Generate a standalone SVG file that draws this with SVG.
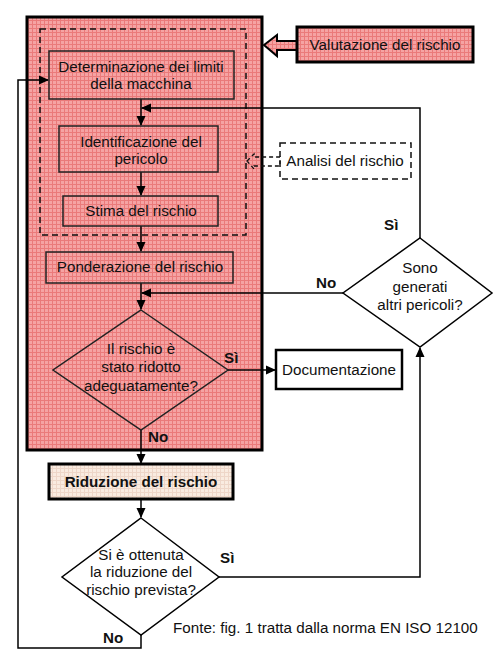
<svg xmlns="http://www.w3.org/2000/svg" width="496" height="665" viewBox="0 0 496 665">
<defs>
<pattern id="grid" width="4" height="4" patternUnits="userSpaceOnUse">
<rect width="4" height="4" fill="#f5a3a3"/>
<path d="M0 0.5H4M0.5 0V4" stroke="#ea7a7a" stroke-width="1"/>
</pattern>
<pattern id="grid2" width="4" height="4" patternUnits="userSpaceOnUse">
<rect width="4" height="4" fill="#f9ebe0"/>
<path d="M0 0.5H4M0.5 0V4" stroke="#eed6c8" stroke-width="1"/>
</pattern>
<marker id="ah" markerWidth="10" markerHeight="10" refX="9" refY="5" orient="auto" markerUnits="userSpaceOnUse">
<path d="M0 0.5L10 5L0 9.5Z" fill="#000"/>
</marker>
</defs>
<style>
text{font-family:"Liberation Sans",Arial,sans-serif;font-size:15.2px;fill:#111}
.c{text-anchor:middle}
.b{font-weight:bold}
.box{fill:none;stroke:#222;stroke-width:1.5}
.ln{fill:none;stroke:#000;stroke-width:1.5}
.dash{fill:none;stroke:#111;stroke-width:1.5;stroke-dasharray:6 4}
</style>
<g id="valutazione-area">
<rect x="27" y="17" width="235" height="433" fill="url(#grid)" stroke="#000" stroke-width="3"/>
</g>
<g id="analisi-area">
<rect x="40" y="29" width="206" height="206" class="dash"/>
</g>
<g id="connectors">
<line x1="141" y1="99" x2="141" y2="125" class="ln" marker-end="url(#ah)"/>
<line x1="141" y1="172" x2="141" y2="195" class="ln" marker-end="url(#ah)"/>
<line x1="141" y1="226" x2="141" y2="251" class="ln" marker-end="url(#ah)"/>
<line x1="141" y1="283" x2="141" y2="309" class="ln" marker-end="url(#ah)"/>
<line x1="141" y1="430" x2="141" y2="463" class="ln" marker-end="url(#ah)"/>
<line x1="141" y1="499" x2="141" y2="517" class="ln" marker-end="url(#ah)"/>
<line x1="228" y1="370" x2="275" y2="370" class="ln" marker-end="url(#ah)"/>
<polyline points="219,577 420,577 420,348" class="ln" marker-end="url(#ah)"/>
<polyline points="343,293 142,293" class="ln" marker-end="url(#ah)"/>
<polyline points="420,238 420,108 142,108" class="ln" marker-end="url(#ah)"/>
<polyline points="141,635 141,648 18,648 18,80 48,80" class="ln" marker-end="url(#ah)"/>
<polygon points="264,45 277,35 277,41 297,41 297,50 277,50 277,56" fill="url(#grid)" stroke="#000" stroke-width="2"/>
<polygon points="247,161 254,154 254,157 280,157 280,166 254,166 254,169" fill="none" stroke="#111" stroke-width="1.3" stroke-dasharray="4 3"/>
</g>
<g id="valutazione">
<rect x="297" y="27" width="176" height="35" fill="url(#grid)" stroke="#000" stroke-width="3"/>
<text x="385" y="50" class="c">Valutazione del rischio</text>
</g>
<g id="analisi">
<rect x="280" y="143" width="131" height="36" class="dash" fill="#fff"/>
<text x="345" y="166" class="c">Analisi del rischio</text>
</g>
<g id="determinazione">
<rect x="49" y="51" width="185" height="48" class="box"/>
<text x="141" y="72" class="c">Determinazione dei limiti</text>
<text x="141" y="89" class="c">della macchina</text>
</g>
<g id="identificazione">
<rect x="59" y="126" width="159" height="46" class="box"/>
<text x="141" y="147" class="c">Identificazione del</text>
<text x="141" y="164" class="c">pericolo</text>
</g>
<g id="stima">
<rect x="63" y="196" width="155" height="30" class="box"/>
<text x="141" y="216" class="c">Stima del rischio</text>
</g>
<g id="ponderazione">
<rect x="46" y="252" width="187" height="31" class="box"/>
<text x="140" y="272" class="c">Ponderazione del rischio</text>
</g>
<g id="decisione1">
<polygon points="141,310 228,370 141,430 53,370" class="box"/>
<text x="141" y="354" class="c">Il rischio è</text>
<text x="141" y="372" class="c">stato ridotto</text>
<text x="141" y="391" class="c">adeguatamente?</text>
<text x="224" y="363" class="b">Sì</text>
<text x="148" y="442" class="b">No</text>
</g>
<g id="documentazione">
<rect x="276" y="350" width="126" height="39" fill="#fff" stroke="#000" stroke-width="2.5"/>
<text x="339" y="375" class="c">Documentazione</text>
</g>
<g id="decisione-pericoli">
<polygon points="420,238 492,293 420,347 343,293" fill="#fff" stroke="#000" stroke-width="1.5"/>
<text x="420" y="273" class="c">Sono</text>
<text x="420" y="292" class="c">generati</text>
<text x="420" y="310" class="c">altri pericoli?</text>
<text x="384" y="230" class="b">Sì</text>
<text x="316" y="288" class="b">No</text>
</g>
<g id="riduzione">
<rect x="49" y="464" width="184" height="35" fill="url(#grid2)" stroke="#000" stroke-width="3"/>
<text x="141" y="487" class="c b">Riduzione del rischio</text>
</g>
<g id="decisione2">
<polygon points="141,518 219,577 141,635 62,577" fill="#fff" stroke="#000" stroke-width="1.5"/>
<text x="141" y="560" class="c">Si è ottenuta</text>
<text x="141" y="577" class="c">la riduzione del</text>
<text x="141" y="595" class="c">rischio prevista?</text>
<text x="220" y="563" class="b">Sì</text>
<text x="103" y="643" class="b">No</text>
</g>
<g id="fonte">
<text x="173" y="633">Fonte: fig. 1 tratta dalla norma EN ISO 12100</text>
</g>
</svg>
